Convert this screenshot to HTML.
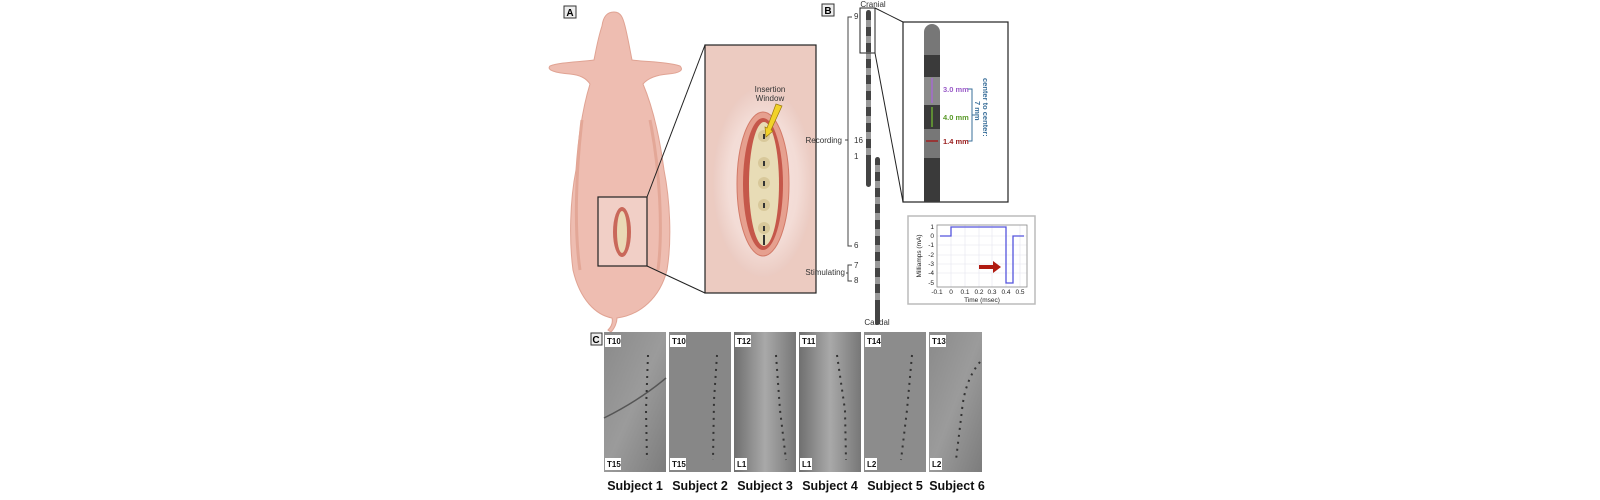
<!DOCTYPE html>
<html><head><meta charset="utf-8"><style>
html,body{margin:0;padding:0;background:#fff;}
svg{display:block;font-family:"Liberation Sans",Arial,sans-serif;}
</style></head><body>
<svg width="1600" height="500" viewBox="0 0 1600 500" xmlns="http://www.w3.org/2000/svg">
<defs>
<radialGradient id="glow" cx="50%" cy="50%" r="50%"><stop offset="0" stop-color="#f6e3df"/><stop offset="0.7" stop-color="#f3dcd6"/><stop offset="1" stop-color="#ebcbc2"/></radialGradient>
<linearGradient id="xr1" x1="0" y1="0" x2="1" y2="1"><stop offset="0" stop-color="#8a8a8a"/><stop offset="0.5" stop-color="#9b9b9b"/><stop offset="1" stop-color="#7c7c7c"/></linearGradient>
<linearGradient id="xr2" x1="0" y1="0" x2="1" y2="0"><stop offset="0" stop-color="#6f6f6f"/><stop offset="0.5" stop-color="#a9a9a9"/><stop offset="1" stop-color="#777"/></linearGradient>
</defs>
<!-- Panel A -->
<rect x="564" y="6" width="12" height="12" fill="#eee" stroke="#333" stroke-width="1"/>
<text x="570" y="16" font-size="10" font-weight="bold" text-anchor="middle">A</text>
<!-- pig -->
<path d="M614,12 C606,12 603,18 602,26 C598,38 596,50 594,60 C580,62 560,62 550,66 C546,70 556,73 570,74 C580,75 586,78 590,84 C582,110 578,140 576,170 C570,200 569,240 573,270 C580,300 596,315 612,318 C613,322 612,326 608,330 L611,332 C615,328 617,322 617,318 C640,315 660,298 667,270 C672,240 670,200 664,170 C660,140 654,110 643,84 C648,78 656,75 668,74 C680,73 684,70 680,66 C668,62 648,62 632,60 C630,50 628,38 625,26 C623,18 621,12 614,12 Z" fill="#eebdb1" stroke="#e0a393" stroke-width="1"/>
<path d="M582,120 C576,170 574,230 580,270" stroke="#e3a797" stroke-width="3" fill="none"/>
<path d="M650,120 C660,170 663,230 658,270" stroke="#e3a797" stroke-width="3" fill="none"/>
<rect x="598" y="197" width="49" height="69" fill="#f1cfc6" stroke="#222" stroke-width="1.2"/>
<ellipse cx="622" cy="232" rx="9" ry="25" fill="#c9685a"/>
<ellipse cx="622" cy="232" rx="5" ry="21" fill="#ead9b5"/>
<line x1="647" y1="197" x2="705" y2="45" stroke="#222" stroke-width="1"/>
<line x1="647" y1="266" x2="705" y2="293" stroke="#222" stroke-width="1"/>
<rect x="705" y="45" width="111" height="248" fill="#eccbc1" stroke="#222" stroke-width="1.2"/>
<ellipse cx="763" cy="182" rx="50" ry="95" fill="url(#glow)"/>
<ellipse cx="763" cy="184" rx="26" ry="72" fill="#e6a08f" stroke="#d27a68"/>
<ellipse cx="763" cy="184" rx="20" ry="66" fill="#c5574a"/>
<ellipse cx="764" cy="184" rx="15" ry="62" fill="#e8dcb6"/>
<g fill="#d8c89a"><circle cx="764" cy="136" r="6"/><circle cx="764" cy="163" r="6"/><circle cx="764" cy="183" r="6"/><circle cx="764" cy="205" r="6"/><circle cx="764" cy="228" r="6"/></g>
<g fill="#333"><rect x="763" y="134" width="2" height="5"/><rect x="763" y="161" width="2" height="5"/><rect x="763" y="181" width="2" height="5"/><rect x="763" y="203" width="2" height="5"/><rect x="763" y="226" width="2" height="5"/><rect x="763" y="235" width="2" height="10"/></g>
<text x="770" y="92" font-size="8" text-anchor="middle" fill="#333">Insertion</text>
<text x="770" y="101" font-size="8" text-anchor="middle" fill="#333">Window</text>
<polygon points="776,104 782,106 771,130 773,131 766,137 765,127 767,128" fill="#f2d22a" stroke="#9a7a10" stroke-width="0.7"/>
<!-- Panel B -->
<rect x="822" y="4" width="12" height="12" fill="#eee" stroke="#333"/>
<text x="828" y="14" font-size="10" font-weight="bold" text-anchor="middle">B</text>
<text x="873" y="7" font-size="8" text-anchor="middle" fill="#333">Cranial</text>
<text x="877" y="325" font-size="8" text-anchor="middle" fill="#333">Caudal</text>
<rect x="866" y="10" width="5" height="177" rx="2.5" fill="#444"/>
<g fill="#999"><rect x="866" y="20" width="5" height="7"/><rect x="866" y="36" width="5" height="7"/><rect x="866" y="52" width="5" height="7"/><rect x="866" y="68" width="5" height="7"/><rect x="866" y="84" width="5" height="7"/><rect x="866" y="100" width="5" height="7"/><rect x="866" y="116" width="5" height="7"/><rect x="866" y="132" width="5" height="7"/><rect x="866" y="148" width="5" height="7"/></g>
<rect x="875" y="157" width="5" height="168" rx="2.5" fill="#444"/>
<g fill="#999"><rect x="875" y="165" width="5" height="7"/><rect x="875" y="181" width="5" height="7"/><rect x="875" y="197" width="5" height="7"/><rect x="875" y="213" width="5" height="7"/><rect x="875" y="229" width="5" height="7"/><rect x="875" y="245" width="5" height="7"/><rect x="875" y="261" width="5" height="7"/><rect x="875" y="277" width="5" height="7"/><rect x="875" y="293" width="5" height="7"/></g>
<rect x="860" y="8" width="15" height="45" fill="none" stroke="#222"/>
<line x1="875" y1="8" x2="903" y2="22" stroke="#222"/>
<line x1="875" y1="53" x2="903" y2="202" stroke="#222"/>
<rect x="903" y="22" width="105" height="180" fill="#fff" stroke="#222" stroke-width="1.2"/>
<rect x="924" y="24" width="16" height="178" rx="8" fill="#777"/>
<rect x="924" y="33" width="16" height="169" fill="#777"/>
<rect x="924" y="55" width="16" height="22" fill="#3a3a3a"/>
<rect x="924" y="105" width="16" height="24" fill="#3a3a3a"/>
<rect x="924" y="158" width="16" height="44" fill="#3a3a3a"/>
<rect x="924" y="77" width="16" height="28" fill="#8a8a8a"/>
<line x1="932" y1="78" x2="932" y2="103" stroke="#a56ad0" stroke-width="1.5"/>
<line x1="932" y1="107" x2="932" y2="127" stroke="#6aa833" stroke-width="1.5"/>
<line x1="926" y1="141" x2="938" y2="141" stroke="#a02020" stroke-width="1.5"/>
<text x="943" y="92" font-size="7.5" font-weight="bold" fill="#9a5cc8">3.0 mm</text>
<text x="943" y="120" font-size="7.5" font-weight="bold" fill="#5a9a2a">4.0 mm</text>
<text x="943" y="144" font-size="7.5" font-weight="bold" fill="#9a2020">1.4 mm</text>
<path d="M968,89 H972 V141 H968 M972,115 H975" fill="none" stroke="#3a6f9a" stroke-width="1"/>
<text transform="translate(983,78) rotate(90)" font-size="7.5" font-weight="bold" fill="#3a6f9a">center to center:</text>
<text transform="translate(975,101) rotate(90)" font-size="7.5" font-weight="bold" fill="#3a6f9a">7 mm</text>
<path d="M852,17 H848 V246 H852 M848,140 H845" fill="none" stroke="#444"/>
<text x="842" y="143" font-size="8" text-anchor="end" fill="#333">Recording</text>
<g font-size="8" fill="#333"><text x="854" y="19">9</text><text x="854" y="143">16</text><text x="854" y="159">1</text><text x="854" y="248">6</text><text x="854" y="268">7</text><text x="854" y="283">8</text></g>
<path d="M852,265 H848 V281 H852 M848,273 H846" fill="none" stroke="#444"/>
<text x="845" y="275" font-size="8" text-anchor="end" fill="#333">Stimulating</text>
<!-- plot -->
<rect x="908" y="216" width="127" height="88" fill="#fff" stroke="#bbb" stroke-width="1.5"/>
<g stroke="#e4e4ee" stroke-width="0.6"><line x1="937" y1="236" x2="1027" y2="236"/><line x1="937" y1="245" x2="1027" y2="245"/><line x1="937" y1="255" x2="1027" y2="255"/><line x1="937" y1="264" x2="1027" y2="264"/><line x1="937" y1="273" x2="1027" y2="273"/><line x1="951" y1="225" x2="951" y2="287"/><line x1="965" y1="225" x2="965" y2="287"/><line x1="979" y1="225" x2="979" y2="287"/><line x1="992" y1="225" x2="992" y2="287"/><line x1="1006" y1="225" x2="1006" y2="287"/><line x1="1020" y1="225" x2="1020" y2="287"/></g>
<rect x="937" y="225" width="90" height="62" fill="none" stroke="#888" stroke-width="0.8"/>
<polyline points="940,236 951,236 951,227 1006,227 1006,283 1013,283 1013,236 1024,236" fill="none" stroke="#5555dd" stroke-width="1.3"/>
<polygon points="979,265 993,265 993,261 1001,267 993,273 993,269 979,269" fill="#b01a10"/>
<g font-size="6.5" fill="#222" text-anchor="end"><text x="934" y="229">1</text><text x="934" y="238">0</text><text x="934" y="247">-1</text><text x="934" y="257">-2</text><text x="934" y="266">-3</text><text x="934" y="275">-4</text><text x="934" y="285">-5</text></g>
<g font-size="6.5" fill="#222" text-anchor="middle"><text x="937" y="294">-0.1</text><text x="951" y="294">0</text><text x="965" y="294">0.1</text><text x="979" y="294">0.2</text><text x="992" y="294">0.3</text><text x="1006" y="294">0.4</text><text x="1020" y="294">0.5</text></g>
<text x="982" y="302" font-size="6.5" text-anchor="middle" fill="#222">Time (msec)</text>
<text transform="translate(921,256) rotate(-90)" font-size="6.5" text-anchor="middle" fill="#222">Milliamps (mA)</text>
<!-- Panel C -->
<rect x="591" y="333" width="11" height="12" fill="#eee" stroke="#333"/>
<text x="596" y="343" font-size="10" font-weight="bold" text-anchor="middle">C</text>
<g>
<rect x="604" y="332" width="62" height="140" fill="url(#xr1)"/>
<rect x="669" y="332" width="62" height="140" fill="#878787"/>
<rect x="734" y="332" width="62" height="140" fill="url(#xr2)"/>
<rect x="799" y="332" width="62" height="140" fill="url(#xr2)"/>
<rect x="864" y="332" width="62" height="140" fill="#8c8c8c"/>
<rect x="929" y="332" width="53" height="140" fill="url(#xr1)"/>
<path d="M604,418 Q640,400 666,378" stroke="#555" stroke-width="1.5" fill="none"/>
<g stroke="#333" stroke-width="2" stroke-dasharray="2,5" fill="none">
<path d="M648,355 L646,410 L647,460"/>
<path d="M717,355 L714,400 L713,460"/>
<path d="M776,355 L780,410 L786,460"/>
<path d="M837,355 L845,410 L846,460"/>
<path d="M912,355 L907,410 L901,460"/>
<path d="M980,362 Q965,380 962,410 L956,460"/>
</g>
<g font-size="8" font-weight="bold" fill="#111">
<rect x="605" y="335" width="16" height="12" fill="#fff"/><text x="607" y="344">T10</text>
<rect x="605" y="458" width="16" height="12" fill="#fff"/><text x="607" y="467">T15</text>
<rect x="670" y="335" width="16" height="12" fill="#fff"/><text x="672" y="344">T10</text>
<rect x="670" y="458" width="16" height="12" fill="#fff"/><text x="672" y="467">T15</text>
<rect x="735" y="335" width="16" height="12" fill="#fff"/><text x="737" y="344">T12</text>
<rect x="735" y="458" width="12" height="12" fill="#fff"/><text x="737" y="467">L1</text>
<rect x="800" y="335" width="16" height="12" fill="#fff"/><text x="802" y="344">T11</text>
<rect x="800" y="458" width="12" height="12" fill="#fff"/><text x="802" y="467">L1</text>
<rect x="865" y="335" width="16" height="12" fill="#fff"/><text x="867" y="344">T14</text>
<rect x="865" y="458" width="12" height="12" fill="#fff"/><text x="867" y="467">L2</text>
<rect x="930" y="335" width="16" height="12" fill="#fff"/><text x="932" y="344">T13</text>
<rect x="930" y="458" width="12" height="12" fill="#fff"/><text x="932" y="467">L2</text>
</g>
<g font-size="12.5" font-weight="bold" fill="#111" text-anchor="middle">
<text x="635" y="490">Subject 1</text><text x="700" y="490">Subject 2</text><text x="765" y="490">Subject 3</text><text x="830" y="490">Subject 4</text><text x="895" y="490">Subject 5</text><text x="957" y="490">Subject 6</text>
</g>
</g>
</svg>
</body></html>
